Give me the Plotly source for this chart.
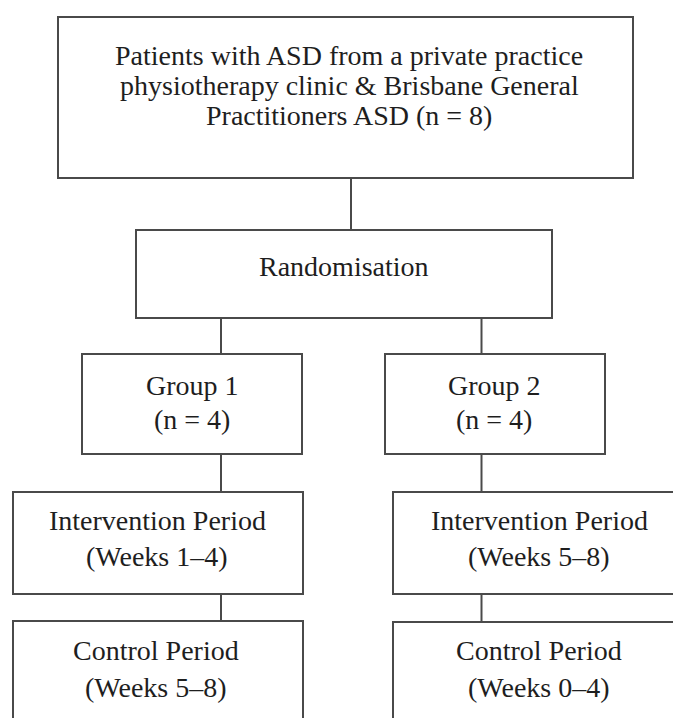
import plotly.graph_objects as go

# ---- content (texts of the flowchart) ----
top_lines = ["Patients with ASD from a private practice",
             "physiotherapy clinic & Brisbane General",
             "Practitioners ASD (n = 8)"]
rand_lines = ["Randomisation"]
group1_lines = ["Group 1", "(n = 4)"]
group2_lines = ["Group 2", "(n = 4)"]
int1_lines = ["Intervention Period", "(Weeks 1\u20134)"]
int2_lines = ["Intervention Period", "(Weeks 5\u20138)"]
ctrl1_lines = ["Control Period", "(Weeks 5\u20138)"]
ctrl2_lines = ["Control Period", "(Weeks 0\u20134)"]

# ---- layout geometry (pixel-like axis units) ----
W, H = 673, 718
LINE_COLOR = "#4a4a4a"
TEXT_COLOR = "#1e1e1e"
FONT = "Liberation Serif, Times New Roman, serif"
FS = 28

boxes = [
    # (x0, y0, x1, y1, lines, text_x, line_ys)
    (58, 17, 633, 178, top_lines, 349, [55, 85, 115]),
    (136, 230, 552, 318, rand_lines, 344, [266]),
    (82, 354, 302, 454, group1_lines, 192, [385, 419]),
    (385, 354, 605, 454, group2_lines, 494, [385, 419]),
    (13, 492, 303, 594, int1_lines, 157, [520, 556]),
    (393, 492, 700, 594, int2_lines, 539, [520, 556]),
    (13, 621, 303, 760, ctrl1_lines, 156, [650, 687]),
    (393, 622, 700, 760, ctrl2_lines, 539, [650, 687]),
]

connectors = [
    (351, 178, 230),
    (221, 318, 354),
    (481.5, 318, 354),
    (221, 454, 492),
    (481.5, 454, 492),
    (221, 594, 621),
    (481.5, 594, 622),
]

fig = go.Figure()
# invisible trace to establish the axes
fig.add_trace(go.Scatter(x=[0, W], y=[0, H], mode="markers",
                         marker=dict(opacity=0), hoverinfo="skip", showlegend=False))

shapes = []
annotations = []
for x0, y0, x1, y1, lines, tx, ys in boxes:
    shapes.append(dict(type="rect", xref="x", yref="y", x0=x0, y0=y0, x1=x1, y1=y1,
                       line=dict(color=LINE_COLOR, width=2), fillcolor="rgba(0,0,0,0)"))
    for txt, ty in zip(lines, ys):
        annotations.append(dict(x=tx, y=ty, xref="x", yref="y", text=txt, showarrow=False,
                                xanchor="center", yanchor="middle",
                                font=dict(family=FONT, size=FS, color=TEXT_COLOR)))
for cx, ya, yb in connectors:
    shapes.append(dict(type="line", xref="x", yref="y", x0=cx, x1=cx, y0=ya, y1=yb,
                       line=dict(color=LINE_COLOR, width=2)))

fig.update_layout(
    width=W, height=H,
    margin=dict(l=0, r=0, t=0, b=0),
    paper_bgcolor="white", plot_bgcolor="white",
    xaxis=dict(range=[0, W], visible=False, fixedrange=True),
    yaxis=dict(range=[H, 0], visible=False, fixedrange=True),
    shapes=shapes, annotations=annotations,
    showlegend=False,
)

fig.write_html(
    "out.html",
    config={"displayModeBar": False, "staticPlot": True},
    post_script="document.body.style.margin='0';document.body.style.overflow='hidden';",
)
